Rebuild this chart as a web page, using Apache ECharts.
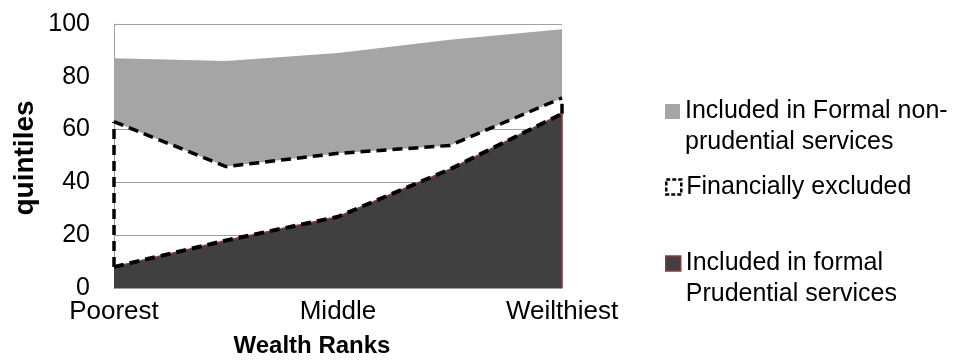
<!DOCTYPE html>
<html>
<head>
<meta charset="utf-8">
<script src="https://cdn.jsdelivr.net/npm/echarts@6/dist/echarts.min.js"></script>
<style>html,body{margin:0;padding:0;background:#fff;}#chart{width:969px;height:364px;}</style>
</head>
<body>
<div id="chart"></div>
<script>
const categories = ['Poorest', 'Q2', 'Middle', 'Q4', 'Weilthiest'];
const prudential = [8, 18, 27, 45, 66];
const excluded = [55, 28, 24, 9, 6];
const nonPrudential = [24, 40, 38, 40, 26];
const yTicks = [0, 20, 40, 60, 80, 100];

const NAME_NON = 'Included in Formal non-prudential services';
const NAME_EXC = 'Financially excluded';
const NAME_PRU = 'Included in formal Prudential services';
const legendText = {};
legendText[NAME_NON] = '\nIncluded in Formal non-\nprudential services';
legendText[NAME_EXC] = 'Financially excluded';
legendText[NAME_PRU] = '\nIncluded in formal\nPrudential services';

const FONT = 'Liberation Sans, Arial, sans-serif';
const dash = [10, 6];
const last = categories.length - 1;
const excTop = prudential.map((v, i) => v + excluded[i]);

const chart = echarts.init(document.getElementById('chart'), null, {renderer: 'canvas'});
const legendBase = {
  orient: 'vertical', left: 665, padding: 0, itemWidth: 15, itemHeight: 15, itemGap: 5,
  icon: 'rect', selectedMode: false,
  formatter: n => legendText[n]
};
chart.setOption({
  animation: false,
  backgroundColor: '#fff',
  grid: {left: 114, right: 407, top: 24, bottom: 76},
  legend: [
    Object.assign({}, legendBase, {top: 65, data: [NAME_NON],
      itemStyle: {color: '#a5a5a5', borderWidth: 0},
      textStyle: {fontFamily: FONT, fontSize: 25, color: '#000', lineHeight: 31}}),
    Object.assign({}, legendBase, {top: 172, data: [NAME_EXC], itemWidth: 15, itemHeight: 15,
      itemStyle: {color: '#fff', borderColor: '#000', borderWidth: 2.5, borderType: [4, 2]},
      textStyle: {fontFamily: FONT, fontSize: 25, color: '#000', lineHeight: 30}}),
    Object.assign({}, legendBase, {top: 217, data: [NAME_PRU],
      itemStyle: {color: '#404040', borderColor: '#8b3a3a', borderWidth: 1.5},
      textStyle: {fontFamily: FONT, fontSize: 25, color: '#000', lineHeight: 31}})
  ],
  xAxis: {
    type: 'category', data: categories, boundaryGap: false,
    axisLine: {show: true, lineStyle: {color: '#a0a0a0', width: 1}},
    axisTick: {show: false},
    axisLabel: {interval: 1, fontFamily: FONT, fontSize: 26, color: '#000', margin: 11}
  },
  yAxis: {
    type: 'value', min: yTicks[0], max: yTicks[yTicks.length - 1], interval: 20,
    axisLine: {show: true, lineStyle: {color: '#a0a0a0', width: 1}},
    axisTick: {show: false},
    axisLabel: {fontFamily: FONT, fontSize: 25, color: '#000', margin: 24},
    splitLine: {lineStyle: {color: '#a0a0a0', width: 1}}
  },
  graphic: [
    {type: 'text', x: 25, y: 158, rotation: Math.PI / 2,
      style: {text: 'quintiles', font: 'bold 28px ' + FONT, fill: '#000', align: 'center', verticalAlign: 'middle'}},
    {type: 'text', x: 312, y: 346,
      style: {text: 'Wealth Ranks', font: 'bold 24px ' + FONT, fill: '#000', align: 'center', verticalAlign: 'middle'}}
  ],
  series: [
    {
      name: NAME_PRU, type: 'line', stack: 'total', data: prudential,
      symbol: 'none', z: 2,
      itemStyle: {color: '#404040'},
      lineStyle: {color: '#8b3a3a', width: 1.5},
      areaStyle: {color: '#404040', opacity: 1},
      markLine: {symbol: 'none', silent: true, label: {show: false},
        lineStyle: {color: '#8b3a3a', width: 1.5, type: 'solid'},
        data: [[{coord: [last, 0]}, {coord: [last, prudential[last]]}]]}
    },
    {
      name: NAME_EXC, type: 'line', stack: 'total', data: excluded,
      symbol: 'none', z: 4,
      itemStyle: {color: '#fff'},
      lineStyle: {color: '#000', width: 3.5, type: dash},
      areaStyle: {color: '#fff', opacity: 0},
      markLine: {symbol: 'none', silent: true, label: {show: false},
        lineStyle: {color: '#000', width: 3.5, type: dash},
        data: [
          [{coord: [0, prudential[0]]}, {coord: [0, excTop[0]]}],
          [{coord: [last, prudential[last]]}, {coord: [last, excTop[last]]}]
        ]}
    },
    {
      name: NAME_NON, type: 'line', stack: 'total', data: nonPrudential,
      symbol: 'none', z: 3,
      itemStyle: {color: '#a5a5a5'},
      lineStyle: {width: 0},
      areaStyle: {color: '#a5a5a5', opacity: 1}
    },
    {
      name: 'excluded-lower-edge', type: 'line', data: prudential,
      symbol: 'none', z: 5, silent: true,
      lineStyle: {color: '#000', width: 4, type: dash}
    }
  ]
});
</script>
</body>
</html>
